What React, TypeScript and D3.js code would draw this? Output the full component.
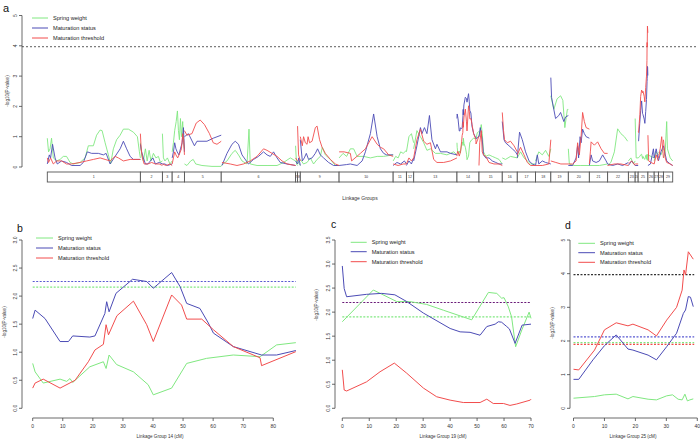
import React from "react";
import * as d3 from "d3";

type P = [number, number];

const seriesNames = ["Spring weight", "Maturation status", "Maturation threshold"];
const seriesColors = ["#80e880", "#4b4bb5", "#f24d4d"];

// ---------- Panel b: linkage group 14 ----------
const springB: P[] = [[0,0.8],[0.8,0.65],[3.5,0.45],[9.1,0.52],[11.3,0.48],[12.4,0.53],[13.3,0.46],[19,0.74],[23.5,0.83],[24.4,0.71],[25.4,0.95],[27.9,0.78],[33.5,0.65],[38.4,0.42],[40.1,0.24],[46.2,0.36],[51.2,0.8],[57.8,0.89],[66.7,0.95],[75.6,0.92],[81.1,1.13],[87.5,1.17]];
const statusB: P[] = [[0,1.6],[0.8,1.75],[4.1,1.6],[9.1,1.19],[11.9,1.19],[13.3,1.29],[19,1.27],[20.7,1.29],[24,1.69],[24.6,1.9],[25.4,1.72],[27.7,2.05],[33.2,2.3],[37.9,2.26],[40.1,2.14],[46.2,2.42],[49,2.17],[51.2,1.87],[55.6,1.78],[58.4,1.52],[60.1,1.34],[66.7,1.1],[76.1,0.95],[81.1,0.95],[87.5,1.03]];
const thresholdB: P[] = [[0,0.36],[0.8,0.45],[3.5,0.52],[9.1,0.36],[14.1,0.5],[18.5,0.83],[20.7,1.04],[23.5,1.14],[24.4,1.49],[25.2,1.31],[28,1.65],[33.5,1.91],[37.9,1.49],[40.1,1.19],[46.2,2.02],[49.5,1.84],[51.2,1.59],[56.2,1.59],[60.1,1.4],[66.7,1.1],[75.6,0.9],[76.1,0.76],[87.5,1.01]];
const cutoffsB = [{ v: 2.26, c: "#5a5ad2" }, { v: 2.16, c: "#80e880" }];
const ticksXB = [0, 10, 20, 30, 40, 50, 60, 70, 80];
const ticksYB = [0, 0.5, 1, 1.5, 2, 2.5, 3];

// ---------- Panel c: linkage group 19 ----------
const springC: P[] = [[0,1.8],[11.5,2.46],[20.2,2.22],[25,2.22],[31.3,2.16],[37.5,2.04],[48,1.84],[54.2,2.41],[57.3,2.39],[59.1,2.29],[60,2.3],[61.6,2.11],[62.8,1.9],[64.3,1.28],[66.6,1.63],[69.3,2.0],[70,1.87]];
const statusC: P[] = [[0,2.96],[0.7,2.49],[1.6,2.32],[9,2.37],[14.6,2.39],[19.5,2.36],[23.9,2.22],[30.1,1.98],[40,1.66],[43.7,1.59],[47.4,1.58],[51.1,1.52],[53.6,1.7],[56.7,1.75],[57.9,1.8],[59.1,1.79],[61,1.7],[62,1.65],[64.1,1.35],[66.7,1.73],[70,1.75]];
const thresholdC: P[] = [[0,0.8],[0.7,0.38],[1.6,0.36],[9,0.55],[14,0.76],[19.3,0.94],[23.9,0.73],[30.1,0.42],[35,0.24],[40,0.17],[44.9,0.12],[51.1,0.12],[53.6,0.19],[56,0.1],[59.8,0.1],[62.2,0.06],[64.7,0.09],[69.7,0.17],[70,0.19]];
const cutoffsC = [{ v: 2.2, c: "#6a1a78" }, { v: 1.9, c: "#80e880" }];
const ticksXC = [0, 10, 20, 30, 40, 50, 60, 70];
const ticksYC = [0, 0.5, 1, 1.5, 2, 2.5, 3, 3.5];

// ---------- Panel d: linkage group 25 ----------
const springD: P[] = [[0,0.3],[6.8,0.35],[10,0.4],[13.8,0.42],[17.6,0.28],[19.2,0.35],[24.1,0.27],[26.8,0.25],[30.1,0.37],[32,0.4],[33.8,0.27],[35.1,0.25],[36,0.42],[36.8,0.22],[37.6,0.25],[38.7,0.28]];
const statusD: P[] = [[0,0.86],[1.7,0.86],[6.3,1.44],[10,1.86],[13.8,2.18],[17.6,1.76],[19.2,1.73],[24.1,1.58],[26.8,1.44],[30.1,1.83],[33.3,2.23],[35.5,2.82],[36.2,2.92],[37.1,3.32],[37.8,3.3],[38.7,3.02]];
const thresholdD: P[] = [[0,1.16],[1.7,1.14],[6.8,1.73],[10,2.33],[13.8,2.54],[17.6,2.45],[19.2,2.5],[24.1,2.33],[26.8,2.15],[30.1,2.62],[33.3,3.0],[35.1,3.51],[35.7,4.11],[36.2,3.96],[37.1,4.65],[38.7,4.43]];
const cutoffsD = [{ v: 3.97, c: "#333333" }, { v: 2.12, c: "#5a5ad2" }, { v: 1.95, c: "#80e880" }, { v: 1.9, c: "#f24d4d" }];
const ticksXD = [0, 10, 20, 30, 40];
const ticksYD = [0, 1, 2, 3, 4, 5];

// ---------- Panel a: genome-wide scan ----------
const groupNames = Array.from({ length: 29 }, (_, i) => String(i + 1));
const groupLengths = [372, 88, 39, 49, 147, 297, 8, 11, 155, 216, 53, 29, 173, 88, 93, 60, 73, 61, 70, 84, 73, 83, 27, 12, 39, 25, 17, 20, 37];
const genomeCutoff = 3.97;
const ticksYA = [0, 1, 2, 3, 4, 5];

const springA: P[][] = [
  [[0,.95],[5,.5],[11,.6],[17,.95],[24,.3],[37,.2],[51,.25],[64,.35],[77,.35],[91,.15],[104,.1],[131,.15],[151,.3],[164,.7],[184,.7],[197,1.05],[211,1.22],[219,1.2],[231,.8],[244,.4],[253,.1],[264,.6],[277,.9],[291,1.05],[304,1.25],[324,1.25],[344,1.15],[360,1.0],[368,.5],[372,.3]],
  [[0,.8],[5,.4],[12,.2],[20,.6],[27,.2],[35,.55],[42,.2],[52,.45],[62,.3],[72,.35],[80,.15],[88,.2]],
  [[0,1.1],[4,.3],[10,.2],[20,.3],[30,.1],[39,.2]],
  [[0,.5],[5,.8],[10,1.2],[16,1.5],[21,1.85],[25,1.2],[29,.9],[33,1.6],[37,1.0],[42,1.5],[46,.8],[49,.6]],
  [[0,.1],[10,.05],[25,.2],[35,.25],[45,.1],[70,.05],[110,.02],[147,.02]],
  [[0,.05],[23,.2],[43,.45],[56,.55],[69,.4],[83,.2],[103,.1],[111,1.25],[116,.1],[143,.05],[183,.05],[223,.05],[249,.15],[276,.3],[297,.2]],
  [[0,.7],[4,.1],[8,.05]],
  [[0,.2],[11,.05]],
  [[0,.25],[13,.1],[27,.15],[40,.3],[53,.1],[67,.25],[80,.35],[88,.65],[100,.4],[120,.25],[140,.05],[155,.05]],
  [[0,.3],[16,.45],[30,.35],[45,.6],[58,.6],[72,.35],[98,.35],[125,.3],[152,.35],[178,.35],[216,.4]],
  [[0,.2],[10,.35],[20,.3],[30,.5],[40,.45],[53,.55]],
  [[0,.5],[10,1.0],[20,1.1],[29,.8]],
  [[0,.6],[13,1.2],[27,1.0],[40,.8],[53,.55],[67,.6],[87,.45],[107,.45],[133,.4],[160,.5],[173,.4]],
  springB,
  [[0,1.0],[5,1.2],[9,1.4],[13,1.1],[18,.5],[27,.35],[40,.4],[53,.35],[67,.3],[80,.25],[93,.1]],
  [[0,.3],[13,.25],[33,.35],[60,.3]],
  [[0,.3],[13,.5],[27,.3],[40,.2],[53,.1],[73,.1]],
  [[0,.2],[13,.5],[27,.4],[40,.55],[53,.35],[61,.6]],
  [[0,2.35],[12,1.9],[25,2.25],[39,2.35],[48,2.2],[56,1.3],[66,1.9],[70,1.9]],
  [[0,.6],[4,.1],[20,.05],[50,.05],[84,.05]],
  [[0,.05],[40,.05],[73,.1]],
  [[0,.05],[13,.15],[27,.5],[40,1.26],[53,1.1],[67,1.0],[80,.85]],
  [[0,.2],[10,.3],[20,.1],[27,.2]],
  [[0,1.6],[4,.3],[12,.3]],
  springD,
  [[0,.4],[12,.35],[25,.3]],
  [[0,.2],[8,.5],[17,.4]],
  [[0,.5],[10,.4],[20,.6]],
  [[0,.3],[7,.5],[13,1.5],[16,.6],[27,.3],[37,.2]],
];

const statusA: P[][] = [
  [[0,.1],[8,.4],[13,.3],[21,.75],[31,.3],[40,.1],[57,.2],[77,.15],[97,.05],[131,.05],[144,.15],[160,.5],[177,.45],[204,.45],[224,.4],[235,.45],[251,.1],[271,.35],[291,.6],[304,.85],[317,.6],[331,.35],[344,.25],[372,.25]],
  [[0,.75],[5,.5],[12,.3],[20,.1],[30,.1],[40,.2],[50,.3],[60,.1],[75,.15],[88,.1]],
  [[0,.1],[10,.1],[20,.05],[39,.1]],
  [[0,.3],[5,.5],[10,.8],[15,.6],[20,.5],[27,.4],[33,.6],[40,.8],[45,1.3],[49,.5]],
  [[0,1.0],[16,1.1],[40,.7],[50,.85],[90,.85],[115,.95],[147,1.05]],
  [[3,.05],[23,.45],[43,.75],[56,.85],[69,.75],[83,.4],[109,.1],[129,.25],[149,.35],[169,.5],[183,.4],[196,.35],[209,.5],[223,.3],[236,.15],[263,.1],[297,.05]],
  [[0,.2],[8,.1]],
  [[0,.1],[5,.3],[11,.05]],
  [[0,.9],[8,.2],[16,.3],[24,.45],[33,.25],[47,.3],[60,.45],[69,.6],[80,.4],[93,.3],[113,.15],[133,.05],[155,.05]],
  [[0,.05],[30,.08],[45,.1],[72,.05],[92,.2],[105,.5],[125,1.1],[138,1.75],[152,1.0],[165,.6],[178,.45],[190,.4],[216,.4]],
  [[0,.05],[15,.15],[30,.1],[45,.2],[53,.1]],
  [[0,.05],[10,.2],[20,.1],[29,.3]],
  [[0,.2],[13,.7],[27,1.3],[33,1.1],[43,1.3],[53,1.1],[63,1.7],[73,.9],[87,.6],[93,.75],[107,.5],[133,.5],[147,.45],[173,.4]],
  statusB,
  [[0,1.0],[5,1.3],[9,1.1],[13,.9],[18,.4],[27,.3],[40,.3],[53,.2],[67,.15],[80,.1],[93,.1]],
  [[0,1.5],[7,.9],[13,.8],[27,.7],[40,.6],[53,.5],[60,.4]],
  [[0,.3],[9,1.15],[20,.9],[33,.5],[47,.2],[60,.1],[73,.05]],
  [[0,.05],[7,.4],[13,.1],[27,.2],[40,.15],[61,.1]],
  [[0,2.95],[3,2.3],[12,1.9],[19,1.6],[32,1.7],[39,1.8],[52,1.5],[59,1.65],[70,1.7]],
  [[0,.05],[17,.05],[31,.3],[37,.7],[41,.3],[47,1.0],[51,.8],[57,1.25],[64,1.1],[71,1.0],[84,.95]],
  [[0,.05],[7,.4],[13,.2],[27,.15],[40,.2],[53,.4],[67,.2],[73,.1]],
  [[0,.1],[20,.05],[40,.1],[60,.05],[83,.15]],
  [[0,.05],[13,.2],[27,.05]],
  [[0,.05],[12,.05]],
  statusD,
  [[0,.05],[10,.1],[22,.6],[25,.3]],
  [[0,.3],[8,.6],[17,.2]],
  [[0,.2],[10,.5],[20,.7]],
  [[0,.7],[5,.5],[13,.2],[27,.1],[37,.05]],
];

const thresholdA: P[][] = [
  [[0,.3],[5,.15],[13,.3],[24,.1],[37,.2],[57,.2],[77,.1],[97,.1],[131,.15],[157,.2],[184,.25],[211,.3],[231,.25],[251,.2],[271,.35],[284,.3],[304,.2],[331,.25],[372,.25]],
  [[0,1.1],[3,.6],[8,.3],[15,.1],[30,.1],[45,.15],[60,.1],[75,.1],[88,.05]],
  [[0,.1],[15,.05],[30,.1],[39,.05]],
  [[0,.1],[5,.3],[10,.5],[15,.4],[22,.3],[30,.45],[37,.6],[42,1.1],[46,.9],[49,.4]],
  [[0,1.2],[10,1.05],[30,1.1],[47,1.45],[63,1.55],[80,1.4],[100,1.1],[115,.8],[130,.75],[147,.85]],
  [[3,.15],[36,.1],[63,.05],[89,.1],[116,.2],[143,.35],[169,.6],[183,.55],[203,.45],[223,.35],[243,.2],[263,.1],[297,.05]],
  [[0,.3],[8,.2]],
  [[0,1.35],[4,.4],[11,.2]],
  [[0,1.0],[8,.7],[13,1.0],[20,.8],[27,.75],[31,1.0],[37,.8],[47,.85],[60,1.3],[67,1.35],[77,.9],[87,.65],[100,.45],[120,.25],[140,.1],[155,.05]],
  [[0,.5],[20,.5],[45,.45],[50,.2],[85,.45],[105,.6],[132,1.0],[152,.75],[165,.65],[178,.6],[198,.4],[216,.35]],
  [[0,.1],[20,.05],[40,.1],[53,.1]],
  [[0,.1],[10,.3],[20,.2],[29,.3]],
  [[0,.3],[13,.9],[27,1.25],[40,.85],[53,.75],[67,.8],[80,.25],[93,.15],[120,.15],[147,.2],[173,.3]],
  thresholdB,
  [[0,.05],[3,.8],[9,1.2],[13,.5],[18,.4],[27,.35],[40,.15],[60,.1],[80,.1],[93,.05]],
  [[0,1.8],[5,1.2],[9,.9],[20,.8],[33,.85],[47,.7],[60,.5]],
  [[0,.4],[13,.65],[27,.4],[40,.15],[53,.05],[73,.05]],
  [[0,.05],[27,.05],[53,.1],[61,.9]],
  [[0,.2],[20,.15],[40,.1],[70,.1]],
  [[0,.1],[17,.1],[31,.2],[37,.8],[44,.4],[51,1.0],[57,1.8],[64,1.5],[71,1.3],[84,1.25]],
  [[0,.1],[4,.5],[7,.83],[20,.72],[33,.83],[47,.6],[60,.45],[73,.45]],
  [[0,.05],[27,.1],[53,.1],[83,.05]],
  [[0,.1],[13,.2],[27,.05]],
  [[0,.1],[12,.1]],
  thresholdD,
  [[0,1.05],[3,.2],[12,.15],[25,.1]],
  [[0,.1],[8,.4],[17,.2]],
  [[0,.3],[7,.6],[13,1.0],[20,.3]],
  [[0,.9],[7,.3],[13,.15],[27,.1],[37,.05]],
];

const FONT = "'Liberation Sans', Arial, Helvetica, sans-serif";
const AXC = "#444";

function Legend({ x1, x2, tx, ys }: { x1: number; x2: number; tx: number; ys: number[] }) {
  return (
    <g>
      {seriesNames.map((n, i) => (
        <g key={n}>
          <line x1={x1} x2={x2} y1={ys[i]} y2={ys[i]} stroke={seriesColors[i]} strokeWidth={1} />
          <text x={tx} y={ys[i] + 2} fontSize={5.6} fontFamily={FONT} fill="#222">{n}</text>
        </g>
      ))}
    </g>
  );
}

function YAxis({ y, ticks, ax, fmt }: { y: d3.ScaleLinear<number, number>; ticks: number[]; ax: number; fmt: (v: number) => string }) {
  return (
    <g>
      <line x1={ax} x2={ax} y1={y(ticks[0])} y2={y(ticks[ticks.length - 1])} stroke={AXC} strokeWidth={0.8} />
      {ticks.map((t) => (
        <g key={t}>
          <line x1={ax - 3} x2={ax} y1={y(t)} y2={y(t)} stroke={AXC} strokeWidth={0.8} />
          <text x={ax - 7} y={y(t)} transform={`rotate(-90, ${ax - 7}, ${y(t)})`} textAnchor="middle" dy="0.35em" fontSize={5} fontFamily={FONT} fill="#333">{fmt(t)}</text>
        </g>
      ))}
    </g>
  );
}

function Panel({ letter, lx, ly, x0, x1, xmax, yTop, ymaxVal, ax, ticksX, ticksY, fmtY, series, cutoffs, legend, xTitle, titleX, yTitleX, yTitleY }: any) {
  const x = d3.scaleLinear().domain([0, ticksX[ticksX.length - 1]]).range([x0, x1]);
  const y = d3.scaleLinear().domain([0, ymaxVal]).range([408.3, yTop]);
  const line = d3.line<P>().x((d) => x(d[0])).y((d) => y(d[1]));
  const axisY = 418;
  return (
    <g>
      <text x={lx} y={ly} fontSize={10.5} fontFamily={FONT} fill="#111">{letter}</text>
      <YAxis y={y} ticks={ticksY} ax={ax} fmt={fmtY} />
      <line x1={x(ticksX[0])} x2={x(ticksX[ticksX.length - 1])} y1={axisY} y2={axisY} stroke={AXC} strokeWidth={0.8} />
      {ticksX.map((t: number) => (
        <g key={t}>
          <line x1={x(t)} x2={x(t)} y1={axisY} y2={axisY + 3} stroke={AXC} strokeWidth={0.8} />
          <text x={x(t)} y={axisY + 10} textAnchor="middle" fontSize={5} fontFamily={FONT} fill="#333">{t}</text>
        </g>
      ))}
      <text x={titleX} y={438} textAnchor="middle" fontSize={4.6} fontFamily={FONT} fill="#333">{xTitle}</text>
      <text x={yTitleX} y={yTitleY} transform={`rotate(-90, ${yTitleX}, ${yTitleY})`} textAnchor="middle" dy="0.35em" fontSize={4.6} fontFamily={FONT} fill="#333">-log10(P-value)</text>
      {cutoffs.map((c: any, i: number) => (
        <line key={i} x1={x(0)} x2={x(xmax)} y1={y(c.v)} y2={y(c.v)} stroke={c.c} strokeWidth={1.2} strokeDasharray="2,1.5" />
      ))}
      {series.map((s: P[], i: number) => (
        <path key={i} d={line(s) || ""} fill="none" stroke={seriesColors[i]} strokeWidth={1} />
      ))}
      <Legend {...legend} />
    </g>
  );
}

export default function App() {
  const starts = d3.cumsum([0, ...groupLengths.slice(0, -1)]);
  const total = d3.sum(groupLengths);
  const xA = d3.scaleLinear().domain([0, total]).range([47.3, 672.7]);
  const yA = d3.scaleLinear().domain([0, 5]).range([167, 15.5]);
  const lineA = (g: number) => d3.line<P>().x((d) => xA(starts[g] + d[0])).y((d) => yA(d[1]));
  const seriesA = [springA, statusA, thresholdA];

  return (
    <svg width={700} height={441} style={{ position: "absolute", left: 0, top: 0, background: "#fff" }} fontFamily={FONT}>
      <rect width={700} height={441} fill="#fff" />
      {/* Panel a */}
      <text x={3} y={12} fontSize={11} fontFamily={FONT} fill="#111">a</text>
      <YAxis y={yA} ticks={ticksYA} ax={22} fmt={(v) => String(v)} />
      <text x={7} y={91} transform="rotate(-90, 7, 91)" textAnchor="middle" dy="0.35em" fontSize={4.6} fontFamily={FONT} fill="#333">-log10(P-value)</text>
      <line x1={22} x2={697} y1={yA(genomeCutoff)} y2={yA(genomeCutoff)} stroke="#333" strokeWidth={0.8} strokeDasharray="2,2" />
      {seriesA.map((ser, si) => (
        <g key={si}>
          {ser.map((pts, g) => (
            <path key={g} d={lineA(g)(pts) || ""} fill="none" stroke={seriesColors[si]} strokeWidth={0.9} />
          ))}
        </g>
      ))}
      {groupNames.map((n, g) => {
        const a = xA(starts[g]);
        const b = xA(starts[g] + groupLengths[g]);
        return (
          <g key={n}>
            <rect x={a} y={172} width={b - a} height={10} fill="#fff" stroke="#555" strokeWidth={0.9} />
            <text x={(a + b) / 2} y={178.3} textAnchor="middle" fontSize={3.6} fontFamily={FONT} fill="#333">{n}</text>
          </g>
        );
      })}
      <text x={360} y={200} textAnchor="middle" fontSize={5} fontFamily={FONT} fill="#333">Linkage Groups</text>
      <Legend x1={32} x2={48} tx={53} ys={[18, 28, 38]} />

      <Panel letter="b" lx={17} ly={232} x0={32.7} x1={273.3} xmax={87.5} yTop={240} ymaxVal={3} ax={22}
        ticksX={ticksXB} ticksY={ticksYB} fmtY={(v: number) => v.toFixed(1)}
        series={[springB, statusB, thresholdB]} cutoffs={cutoffsB}
        legend={{ x1: 36, x2: 53, tx: 58, ys: [238, 248, 258] }}
        xTitle="Linkage Group 14 (cM)" titleX={160} yTitleX={4} yTitleY={322} />

      <Panel letter="c" lx={331} ly={228} x0={342.3} x1={531} xmax={70} yTop={240} ymaxVal={3.5} ax={335}
        ticksX={ticksXC} ticksY={ticksYC} fmtY={(v: number) => v.toFixed(1)}
        series={[springC, statusC, thresholdC]} cutoffs={cutoffsC}
        legend={{ x1: 350.7, x2: 366.7, tx: 371.7, ys: [242.3, 251.7, 261.7] }}
        xTitle="Linkage Group 19 (cM)" titleX={443} yTitleX={316} yTitleY={305} />

      <Panel letter="d" lx={565} ly={229} x0={573.5} x1={697.3} xmax={39} yTop={240} ymaxVal={5} ax={570}
        ticksX={ticksXD} ticksY={ticksYD} fmtY={(v: number) => String(v)}
        series={[springD, statusD, thresholdD]} cutoffs={cutoffsD}
        legend={{ x1: 578.3, x2: 595, tx: 600, ys: [243.3, 252.7, 262.3] }}
        xTitle="Linkage Group 25 (cM)" titleX={633} yTitleX={552} yTitleY={323} />
    </svg>
  );
}
